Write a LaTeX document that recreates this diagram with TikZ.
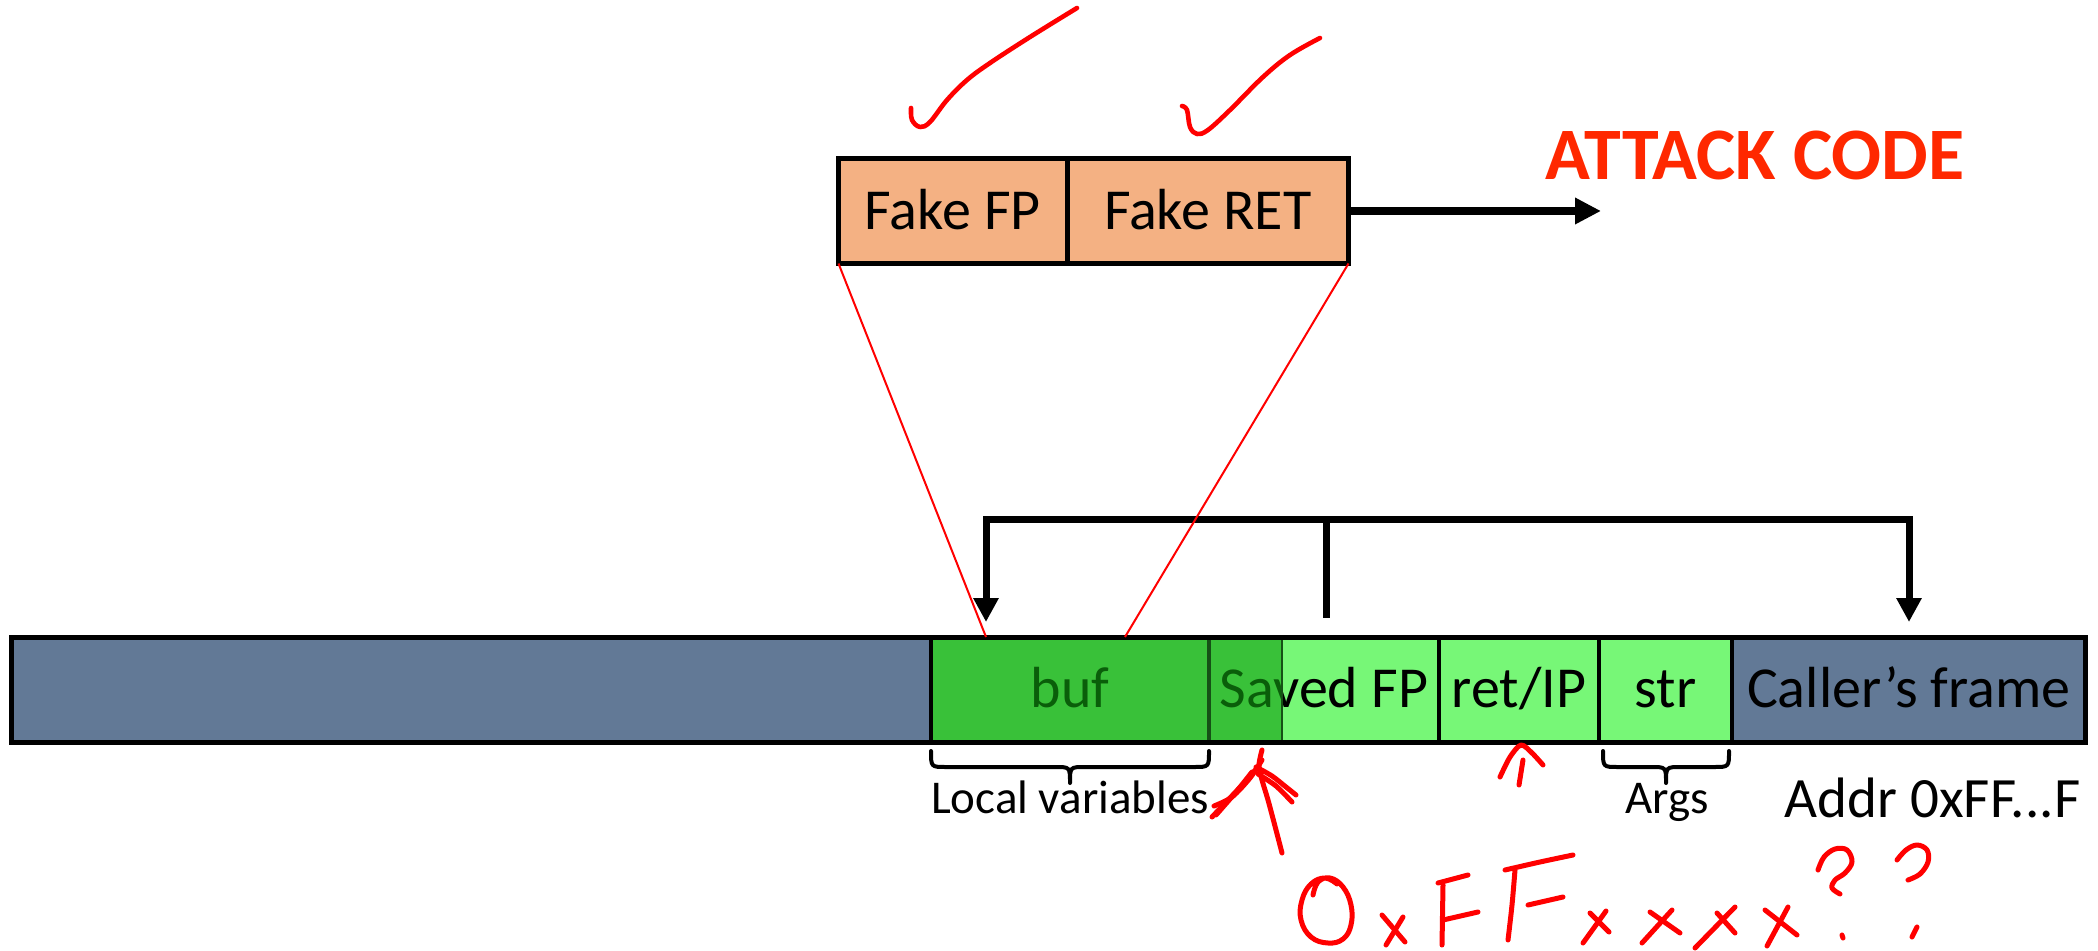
\documentclass[tikz,border=0pt]{standalone}
\usepackage{fontspec}
\setmainfont{Carlito}
\usetikzlibrary{arrows.meta}

\definecolor{stackblue}{RGB}{98,121,150}
\definecolor{lightgreen}{RGB}{119,247,119}
\definecolor{overgreen}{RGB}{17,157,17}
\definecolor{edgegreen}{RGB}{22,80,22}
\definecolor{fakefill}{RGB}{244,177,131}
\definecolor{attackred}{RGB}{255,40,0}
\definecolor{inkred}{RGB}{255,0,0}

\tikzset{
  cellnode/.style={inner sep=0pt, outer sep=0pt, minimum height=52.5pt,
    text height=17pt, text depth=0pt, font=\fontsize{29}{34}\selectfont},
  fakecell/.style={draw=black, line width=2.5pt, fill=fakefill, inner sep=0pt,
    outer sep=0pt, minimum height=52.5pt, text height=19pt, text depth=0pt,
    font=\fontsize{29}{34}\selectfont},
  undertext/.style={anchor=base, inner sep=0pt, font=\fontsize{23.5}{28}\selectfont},
  brace/.style={draw=black, line width=2pt, line cap=round, line join=round},
  bracket/.style={draw=black, line width=3.5pt},
  bigtip/.tip={Triangle[length=12pt,width=12pt]},
  zoomline/.style={draw=inkred, line width=1pt},
  ink/.style={draw=inkred, line width=2.5pt, line cap=round, line join=round},
  divider/.style={draw=black, line width=2pt},
}

\begin{document}
\begin{tikzpicture}[x=0.5pt, y=-0.5pt]
\useasboundingbox (0,0) rectangle (2098,951);

% ---- stack frame cells ----
\node[cellnode, fill=stackblue, minimum width=459.75pt] (heap) at (471.25,690) {};
\node[cellnode, fill=lightgreen, minimum width=139pt] (buf) at (1070,690) {buf};
\node[cellnode, fill=lightgreen, minimum width=115pt] (saved) at (1324,690) {Saved FP};
\node[cellnode, fill=lightgreen, minimum width=80pt] (ret) at (1519,690) {ret/IP};
\node[cellnode, fill=lightgreen, minimum width=66.5pt] (str) at (1665.5,690) {str};
\node[cellnode, fill=stackblue, minimum width=176.75pt] (caller) at (1908.75,690) {Caller’s frame};

% overflowed region (buf spilling into saved FP)
\coordinate (spill) at (1282,742.5);
\fill[overgreen, opacity=0.6] (buf.north west) rectangle (spill);
\draw[edgegreen, line width=1.2pt] (1282,640) -- (1282,740);
\draw[edgegreen, line width=2pt] (buf.north east) -- (buf.south east);

% cell dividers and outline
\draw[divider] (buf.north west) -- (buf.south west);
\draw[divider] (saved.north east) -- (saved.south east);
\draw[divider] (ret.north east) -- (ret.south east);
\draw[divider] (str.north east) -- (str.south east);
\draw[line width=2.5pt] (heap.north west) rectangle (caller.south east);

% ---- braces and labels below the stack ----
\draw[brace] (931,751) .. controls (931,767) .. (946,767) -- (1055,767)
  .. controls (1070,767) .. (1070,783) .. controls (1070,767) .. (1085,767)
  -- (1194,767) .. controls (1209,767) .. (1209,751);
\draw[brace] (1603,751) .. controls (1603,767) .. (1618,767) -- (1651,767)
  .. controls (1666,767) .. (1666,783) .. controls (1666,767) .. (1681,767)
  -- (1714,767) .. controls (1729,767) .. (1729,751);
\node[undertext] (locals) at (1070,813) {Local variables};
\node[undertext] (args) at (1667,813) {Args};
\node[anchor=base, inner sep=0pt, font=\fontsize{28.5}{33}\selectfont] (addr) at (1932.5,817) {Addr 0xFF.\kern0pt.\kern0pt.F};

% ---- frame pointer bracket ----
\coordinate (bufTip) at (986,622);
\coordinate (callerTip) at (1909,622);
\coordinate (joinL) at (986,520);
\coordinate (joinR) at (1909,520);
\coordinate (branch) at (1326,520);
\coordinate (fpStem) at (1326,618);
\draw[bracket, bigtip-bigtip] (bufTip) -- (joinL) -- (joinR) -- (callerTip);
\draw[bracket] (branch) -- (fpStem);

% ---- injected fake frame ----
\coordinate (bufL) at (986,637);
\coordinate (bufR) at (1125,637);
\node[fakecell, minimum width=114.25pt] (fakefp) at (952.75,211) {Fake FP};
\node[fakecell, minimum width=140.75pt] (fakeret) at (1207.75,211) {Fake RET};
\draw[zoomline] (fakefp.south west) -- (bufL);
\draw[zoomline] (fakeret.south east) -- (bufR);

\coordinate (codeTip) at (1601,211);
\draw[line width=4pt, -{Triangle[length=13pt,width=12.5pt]}] (fakeret.east) -- (codeTip);
\node[anchor=base, inner sep=0pt, text=attackred, font=\bfseries\fontsize{37}{43}\selectfont] (attack) at (1755,180) {ATTACK CODE};

% ---- hand-drawn annotations ----
\draw[ink, line width=2.3pt] plot[smooth, tension=0.6] coordinates {(911,108) (912,120) (920,127) (930,122) (947,100) (967,80) (990,63) (1030,37) (1077,8)};
\draw[ink, line width=2.3pt] plot[smooth, tension=0.6] coordinates {(1182,106) (1187,110) (1190,127) (1197,134) (1208,130) (1230,110) (1263,77) (1290,55) (1320,38)};

% arrow at the saved frame pointer
\draw[ink] plot[smooth] coordinates {(1282,853) (1276,830) (1268,800) (1262,780) (1259,765) (1262,750)};
\draw[ink] plot[smooth] coordinates {(1212,817) (1228,800) (1245,782) (1257,768)};
\draw[ink] plot[smooth] coordinates {(1214,806) (1232,797) (1250,778) (1262,760)};
\draw[ink] plot[smooth] coordinates {(1216,815) (1236,792) (1252,772)};
\draw[ink] plot[smooth] coordinates {(1256,767) (1272,776) (1286,787) (1296,795)};
\draw[ink] plot[smooth] coordinates {(1258,774) (1276,786) (1292,802)};

% arrow at the return address
\draw[ink] (1519,785) -- (1523,760);
\draw[ink] plot[smooth] coordinates {(1500,777) (1510,757) (1521,745) (1532,753) (1543,765)};

% 0xFFxxxx??
\draw[ink] plot[smooth, tension=0.7] coordinates {(1313,895) (1318,882) (1330,878) (1343,887) (1351,905) (1351,925) (1343,939) (1328,943) (1311,937) (1301,920) (1302,900) (1311,884) (1325,878) (1337,884)};
\draw[ink] (1382,915) -- (1405,942);
\draw[ink] (1403,917) -- (1386,945);
\draw[ink] (1443,885) -- (1442,945);
\draw[ink] (1438,883) -- (1468,875);
\draw[ink] (1443,920) -- (1478,912);
\draw[ink] plot[smooth] coordinates {(1515,870) (1512,905) (1508,940)};
\draw[ink] plot[smooth] coordinates {(1505,870) (1540,862) (1573,855)};
\draw[ink] (1528,905) -- (1563,897);
\draw[ink] (1583,943) -- (1606,911);
\draw[ink] (1590,913) -- (1609,932);
\draw[ink] (1642,943) -- (1672,910);
\draw[ink] (1650,912) -- (1680,933);
\draw[ink] (1695,948) -- (1735,907);
\draw[ink] (1717,913) -- (1735,933);
\draw[ink] (1767,946) -- (1788,907);
\draw[ink] (1765,910) -- (1797,935);
\draw[ink] plot[smooth, tension=0.6] coordinates {(1818,870) (1824,857) (1835,849) (1847,850) (1852,862) (1845,873) (1835,880) (1832,888) (1840,894)};
\draw[ink] (1842,935) -- (1843,938);
\draw[ink] plot[smooth, tension=0.6] coordinates {(1897,860) (1906,850) (1917,845) (1927,850) (1928,862) (1920,874) (1908,880)};
\draw[ink] (1917,927) -- (1912,937);
\end{tikzpicture}
\end{document}
